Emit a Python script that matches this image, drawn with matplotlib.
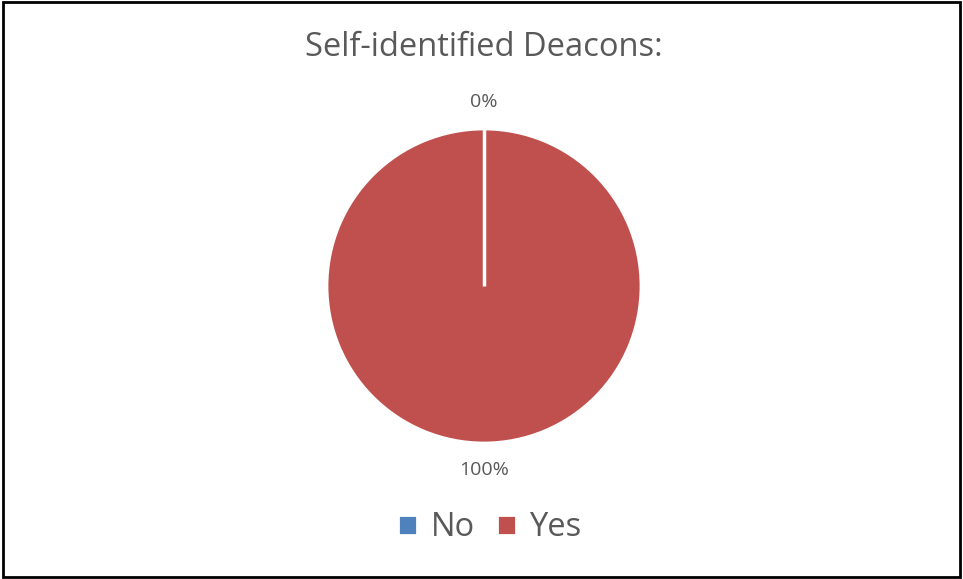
import matplotlib.pyplot as plt
from matplotlib.patches import Rectangle
import numpy as np

categories = ['No', 'Yes']
values = [0, 100]
colors = ['#4F81BD', '#C0504D']

plt.rcParams['font.family'] = ['Open Sans', 'DejaVu Sans']
txt = '#595959'

fig = plt.figure(figsize=(9.63, 5.79), dpi=100)
fig.patch.set_facecolor('white')

# pie area, center ~ (484, 286) px, radius ~157 px
cx, cy, r = 484, 286, 157
ax = fig.add_axes([(cx - r) / 963, (579 - cy - r) / 579, 2 * r / 963, 2 * r / 579])
wedges, texts, autotexts = ax.pie(values, colors=colors, startangle=90, counterclock=False,
                                  autopct='%1.0f%%', pctdistance=1.17,
                                  wedgeprops=dict(edgecolor='white', linewidth=2),
                                  textprops=dict(color=txt, fontsize=14))
# full wedge has no radial edge in matplotlib, draw the split line at the start angle
a = np.deg2rad(wedges[1].theta2)
ax.plot([0, np.cos(a)], [0, np.sin(a)], color='white', lw=2.5, solid_capstyle='butt')
ax.set_xlim(-1, 1)
ax.set_ylim(-1, 1)
ax.set_aspect('equal')

fig.text(484 / 963, 1 - 47 / 579, 'Self-identified Deacons:', ha='center', va='center',
         fontsize=23.5, color=txt)

fig.legend(wedges, categories, loc='center', bbox_to_anchor=(490 / 963, 1 - 528 / 579),
           ncol=2, frameon=False, fontsize=23.5, labelcolor=txt,
           handlelength=0.58, handleheight=0.58, handletextpad=0.4, columnspacing=0.7)

fig.add_artist(Rectangle((3 / 963, 2 / 579), 957 / 963, 575 / 579, transform=fig.transFigure,
                         fill=False, edgecolor='black', linewidth=2))

fig.savefig('out.png', dpi=100)
